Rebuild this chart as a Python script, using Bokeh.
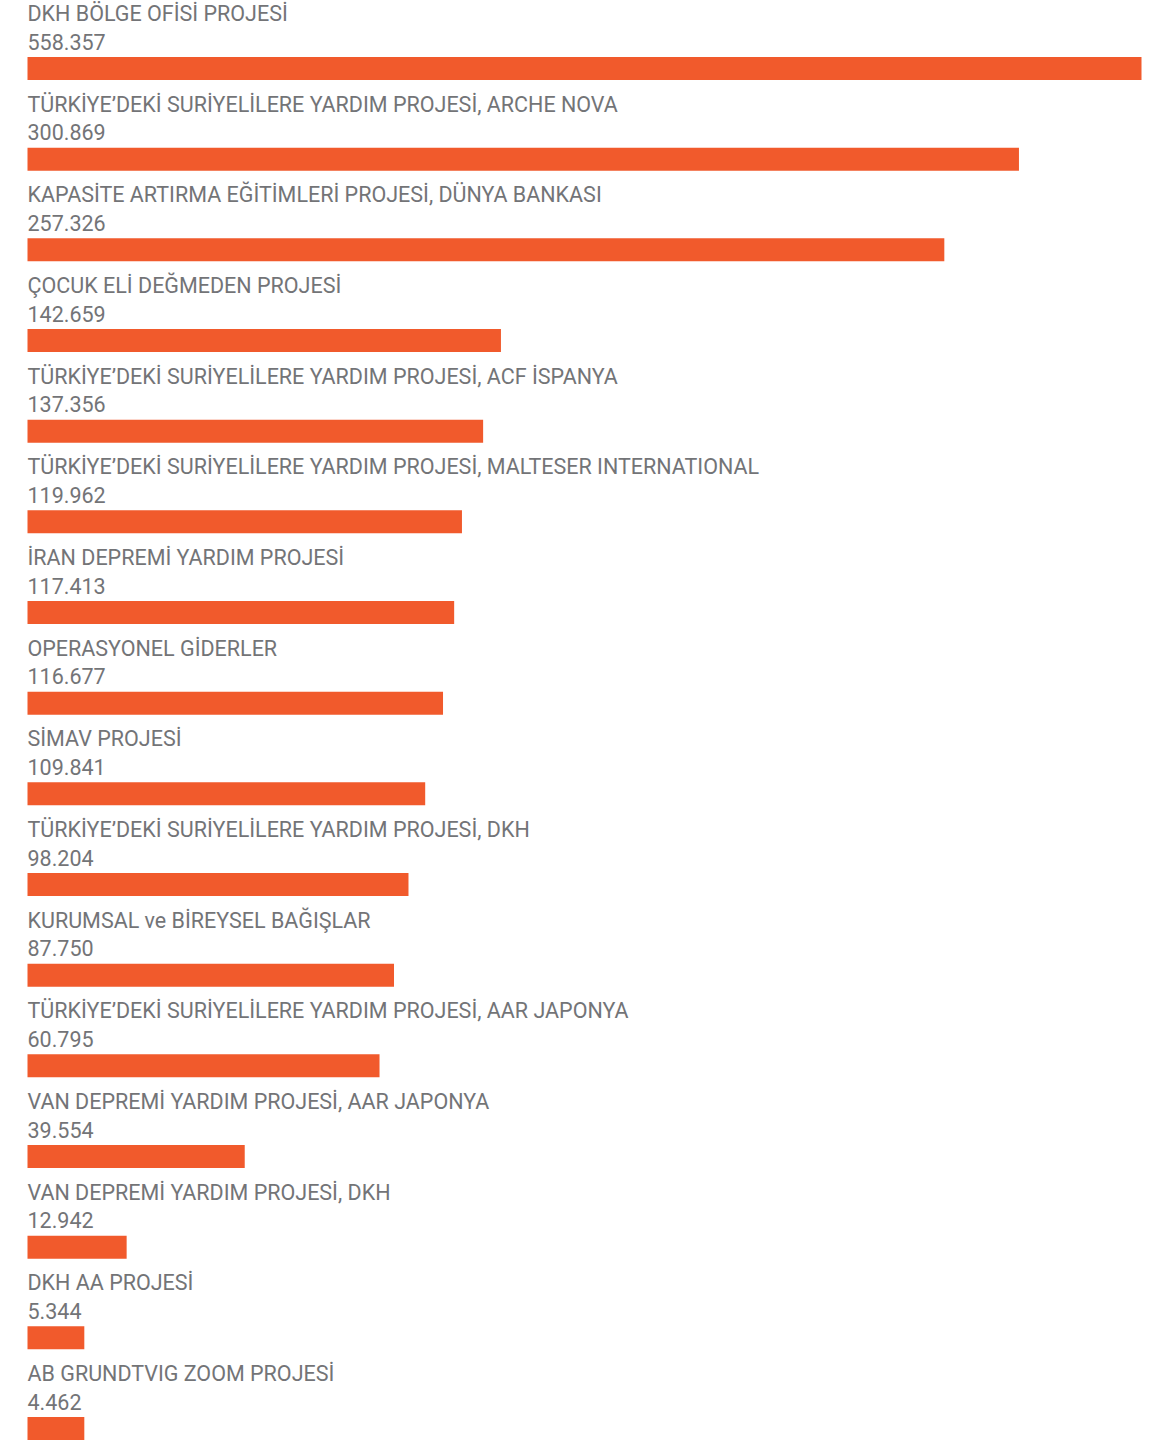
from bokeh.plotting import figure
from bokeh.models import ColumnDataSource, Range1d
from bokeh.core.properties import value
from bokeh.embed import file_html
from bokeh.resources import INLINE

projects = [
    "DKH BÖLGE OFİSİ PROJESİ",
    "TÜRKİYE’DEKİ SURİYELİLERE YARDIM PROJESİ, ARCHE NOVA",
    "KAPASİTE ARTIRMA EĞİTİMLERİ PROJESİ, DÜNYA BANKASI",
    "ÇOCUK ELİ DEĞMEDEN PROJESİ",
    "TÜRKİYE’DEKİ SURİYELİLERE YARDIM PROJESİ, ACF İSPANYA",
    "TÜRKİYE’DEKİ SURİYELİLERE YARDIM PROJESİ, MALTESER INTERNATIONAL",
    "İRAN DEPREMİ YARDIM PROJESİ",
    "OPERASYONEL GİDERLER",
    "SİMAV PROJESİ",
    "TÜRKİYE’DEKİ SURİYELİLERE YARDIM PROJESİ, DKH",
    "KURUMSAL ve BİREYSEL BAĞIŞLAR",
    "TÜRKİYE’DEKİ SURİYELİLERE YARDIM PROJESİ, AAR JAPONYA",
    "VAN DEPREMİ YARDIM PROJESİ, AAR JAPONYA",
    "VAN DEPREMİ YARDIM PROJESİ, DKH",
    "DKH AA PROJESİ",
    "AB GRUNDTVIG ZOOM PROJESİ",
]
amount_labels = [
    "558.357", "300.869", "257.326", "142.659", "137.356", "119.962",
    "117.413", "116.677", "109.841", "98.204", "87.750", "60.795",
    "39.554", "12.942", "5.344", "4.462",
]
# drawn bar length in the infographic (not to scale), % of longest bar
bar_extent = [100.0, 89.0, 82.3, 42.5, 40.9, 39.0, 38.3, 37.3, 35.7,
              34.2, 32.9, 31.6, 19.5, 8.9, 5.1, 5.1]

W, H = 1153, 1442
px_per_unit = 11.14
left_px = 27
first_c = 68
step = (1428 - first_c) / (len(projects) - 1)

rows = list(range(len(projects)))
src = ColumnDataSource(dict(row=rows, name=projects, amt=amount_labels, ext=bar_extent))

p = figure(width=W, height=H, output_backend="svg", toolbar_location=None,
           x_range=Range1d(-left_px / px_per_unit, (W - left_px) / px_per_unit),
           y_range=Range1d((H - first_c) / step, -first_c / step),
           min_border=0)
p.axis.visible = False
p.grid.visible = False
p.outline_line_color = None
p.background_fill_color = "white"
p.border_fill_color = "white"

p.hbar(y="row", left=0, right="ext", height=23 / step, source=src,
       fill_color="#F15A2C", line_color=None)

font = value("Roboto")
p.text(x=0, y="row", text="name", source=src, y_offset=-55,
       text_font=font, text_font_size="21.5px", text_color="#737477",
       text_baseline="middle", text_align="left")
p.text(x=0, y="row", text="amt", source=src, y_offset=-27,
       text_font=font, text_font_size="21.5px", text_color="#737477",
       text_baseline="middle", text_align="left")

open("out.html", "w").write(file_html(p, INLINE))
